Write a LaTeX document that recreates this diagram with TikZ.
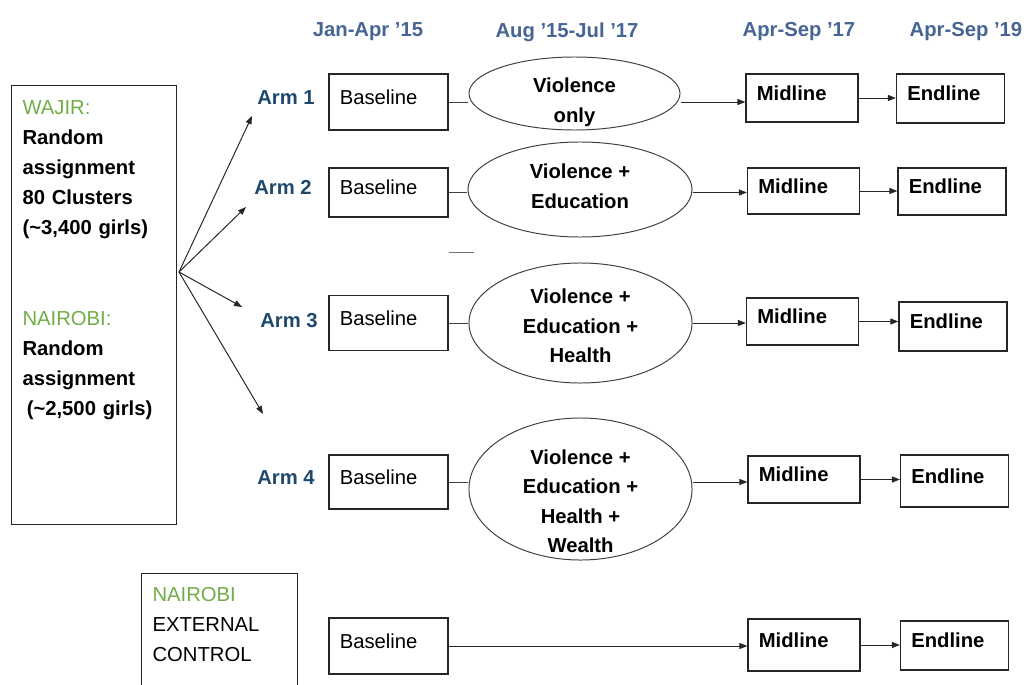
\documentclass[tikz,border=0pt]{standalone}
\usepackage{fontspec}
\setmainfont{Liberation Sans}
\usepackage{xcolor}
\usetikzlibrary{arrows.meta,shapes.geometric}
\definecolor{hdrblue}{RGB}{70,100,148}
\definecolor{armblue}{RGB}{30,72,108}
\definecolor{siteg}{RGB}{112,173,71}

\begin{document}
\begin{tikzpicture}[
  x=0.025cm, y=-0.025cm,
  font=\fontsize{14.4}{20.6}\selectfont,
  >={Triangle[length=2mm, width=1.5mm]},
  hdr/.style={font=\fontsize{14.4}{20.6}\selectfont\bfseries, text=hdrblue},
  arm/.style={font=\fontsize{14.4}{20.6}\selectfont\bfseries, text=armblue},
  box/.style={draw=black!85, line width=0.8pt, align=left, inner xsep=0.27cm, inner ysep=0pt,
              text height=10.5pt, text depth=7pt},
  base/.style={box, minimum width=2.975cm, text width=2.435cm},
  mid/.style={box, font=\fontsize{14.4}{20.6}\selectfont\bfseries, minimum width=2.8cm, text width=2.26cm},
  endl/.style={box, font=\fontsize{14.4}{20.6}\selectfont\bfseries, minimum width=2.7cm, text width=2.16cm},
  site/.style={draw=black!85, line width=0.8pt, align=left, anchor=north west, inner xsep=0.275cm},
  trt/.style={ellipse, draw=black!75, line width=0.7pt, inner xsep=0pt, inner ysep=-#1, align=center,
              font=\fontsize{14.4}{21}\selectfont\bfseries, text height=2*#1, text depth=0pt},
  flow/.style={->, line width=0.7pt, draw=black!85},
  link/.style={line width=0.7pt, draw=black!75}
]
\useasboundingbox (0,0) rectangle (1026,684);

% time headers
\node[hdr] (h1) at (368,32) {Jan-Apr '15};
\node[hdr] (h2) at (567,32) {Aug '15-Jul '17};
\node[hdr] (h3) at (799,32) {Apr-Sep '17};
\node[hdr] (h4) at (966,32) {Apr-Sep '19};

% randomisation box
\node[site, text width=3.575cm, inner ysep=0.35cm, text height=10.5pt, text depth=9.9cm,
      font=\fontsize{14.4}{21.3}\selectfont\bfseries] (rand) at (11,85)
  {{\mdseries\color{siteg}WAJIR:}\\Random\\assignment\\80 Clusters\\(\textasciitilde3,400 girls)\\[44pt]
   {\mdseries\color{siteg}NAIROBI:}\\Random\\assignment\\\hspace*{3pt}(\textasciitilde2,500 girls)};

% external control box
\node[site, text width=3.35cm, inner ysep=0.325cm, text height=10.5pt, text depth=5cm,
      font=\fontsize{14.4}{21.3}\selectfont] (ctrl) at (141,573)
  {{\color{siteg}NAIROBI}\\EXTERNAL\\CONTROL};

% arms
\node[arm] (arm1) at (286,98)  {Arm 1};
\node[arm] (arm2) at (283,187) {Arm 2};
\node[arm] (arm3) at (289,321) {Arm 3};
\node[arm] (arm4) at (286,478) {Arm 4};

\coordinate (fan)  at (179,272);
\coordinate (tip1) at (252,116);
\coordinate (tip2) at (246,207);
\coordinate (tip3) at (242,307);
\coordinate (tip4) at (263,414);

% baseline
\node[base, minimum height=1.4cm]   (base1) at (388.5,102)   {Baseline};
\node[base, minimum height=1.225cm] (base2) at (388.5,192.5) {Baseline};
\node[base, minimum height=1.375cm] (base3) at (388.5,323)   {Baseline};
\node[base, minimum height=1.35cm]  (base4) at (388.5,482)   {Baseline};
\node[base, minimum height=1.4cm]   (base5) at (388.5,646)   {Baseline};

% interventions
\node[trt=20.3pt, minimum width=5.275cm, minimum height=1.825cm] (trt1) at (574.5,93.5)
  {Violence\\only};
\node[trt=13.2pt, minimum width=5.6cm, minimum height=2.375cm] (trt2) at (580,189.5)
  {Violence +\\Education};
\node[trt=28.4pt, minimum width=5.575cm, minimum height=3.0cm] (trt3) at (580.5,323)
  {Violence +\\Education +\\Health};
\node[trt=45.5pt, minimum width=5.575cm, minimum height=3.55cm] (trt4) at (580.5,489)
  {Violence +\\Education +\\Health +\\Wealth};

% midline
\node[mid, minimum height=1.2cm]   (mid1) at (802,98)    {Midline};
\node[mid, minimum height=1.15cm]  (mid2) at (803.5,191) {Midline};
\node[mid, minimum height=1.175cm] (mid3) at (802.5,321.5) {Midline};
\node[mid, minimum height=1.175cm] (mid4) at (804,479.5) {Midline};
\node[mid, minimum height=1.3cm]   (mid5) at (804,645)   {Midline};

% endline
\node[endl, minimum height=1.225cm] (end1) at (950.5,98.5) {Endline};
\node[endl, minimum height=1.175cm] (end2) at (952,191.5)  {Endline};
\node[endl, minimum height=1.225cm] (end3) at (953,326.5)  {Endline};
\node[endl, minimum height=1.3cm]   (end4) at (954.5,481)  {Endline};
\node[endl, minimum height=1.225cm] (end5) at (954.5,645.5) {Endline};

% fan out to the arms
\foreach \i in {1,...,4}
  \draw[flow] (fan) -- (tip\i);

% rows
\foreach \i in {1,...,4} {
  \draw[link] (base\i.east) -- (base\i.east -| trt\i.west);
  \draw[flow] (base\i.east -| trt\i.east) -- (base\i.east -| mid\i.west);
}
\draw[flow] (base5.east) -- (base5.east -| mid5.west);
\foreach \i in {1,...,5}
  \draw[flow] (mid\i.east) -- (mid\i.east -| end\i.west);

\draw[black!55, line width=0.7pt] (449,252) -- (474,252);
\end{tikzpicture}
\end{document}
